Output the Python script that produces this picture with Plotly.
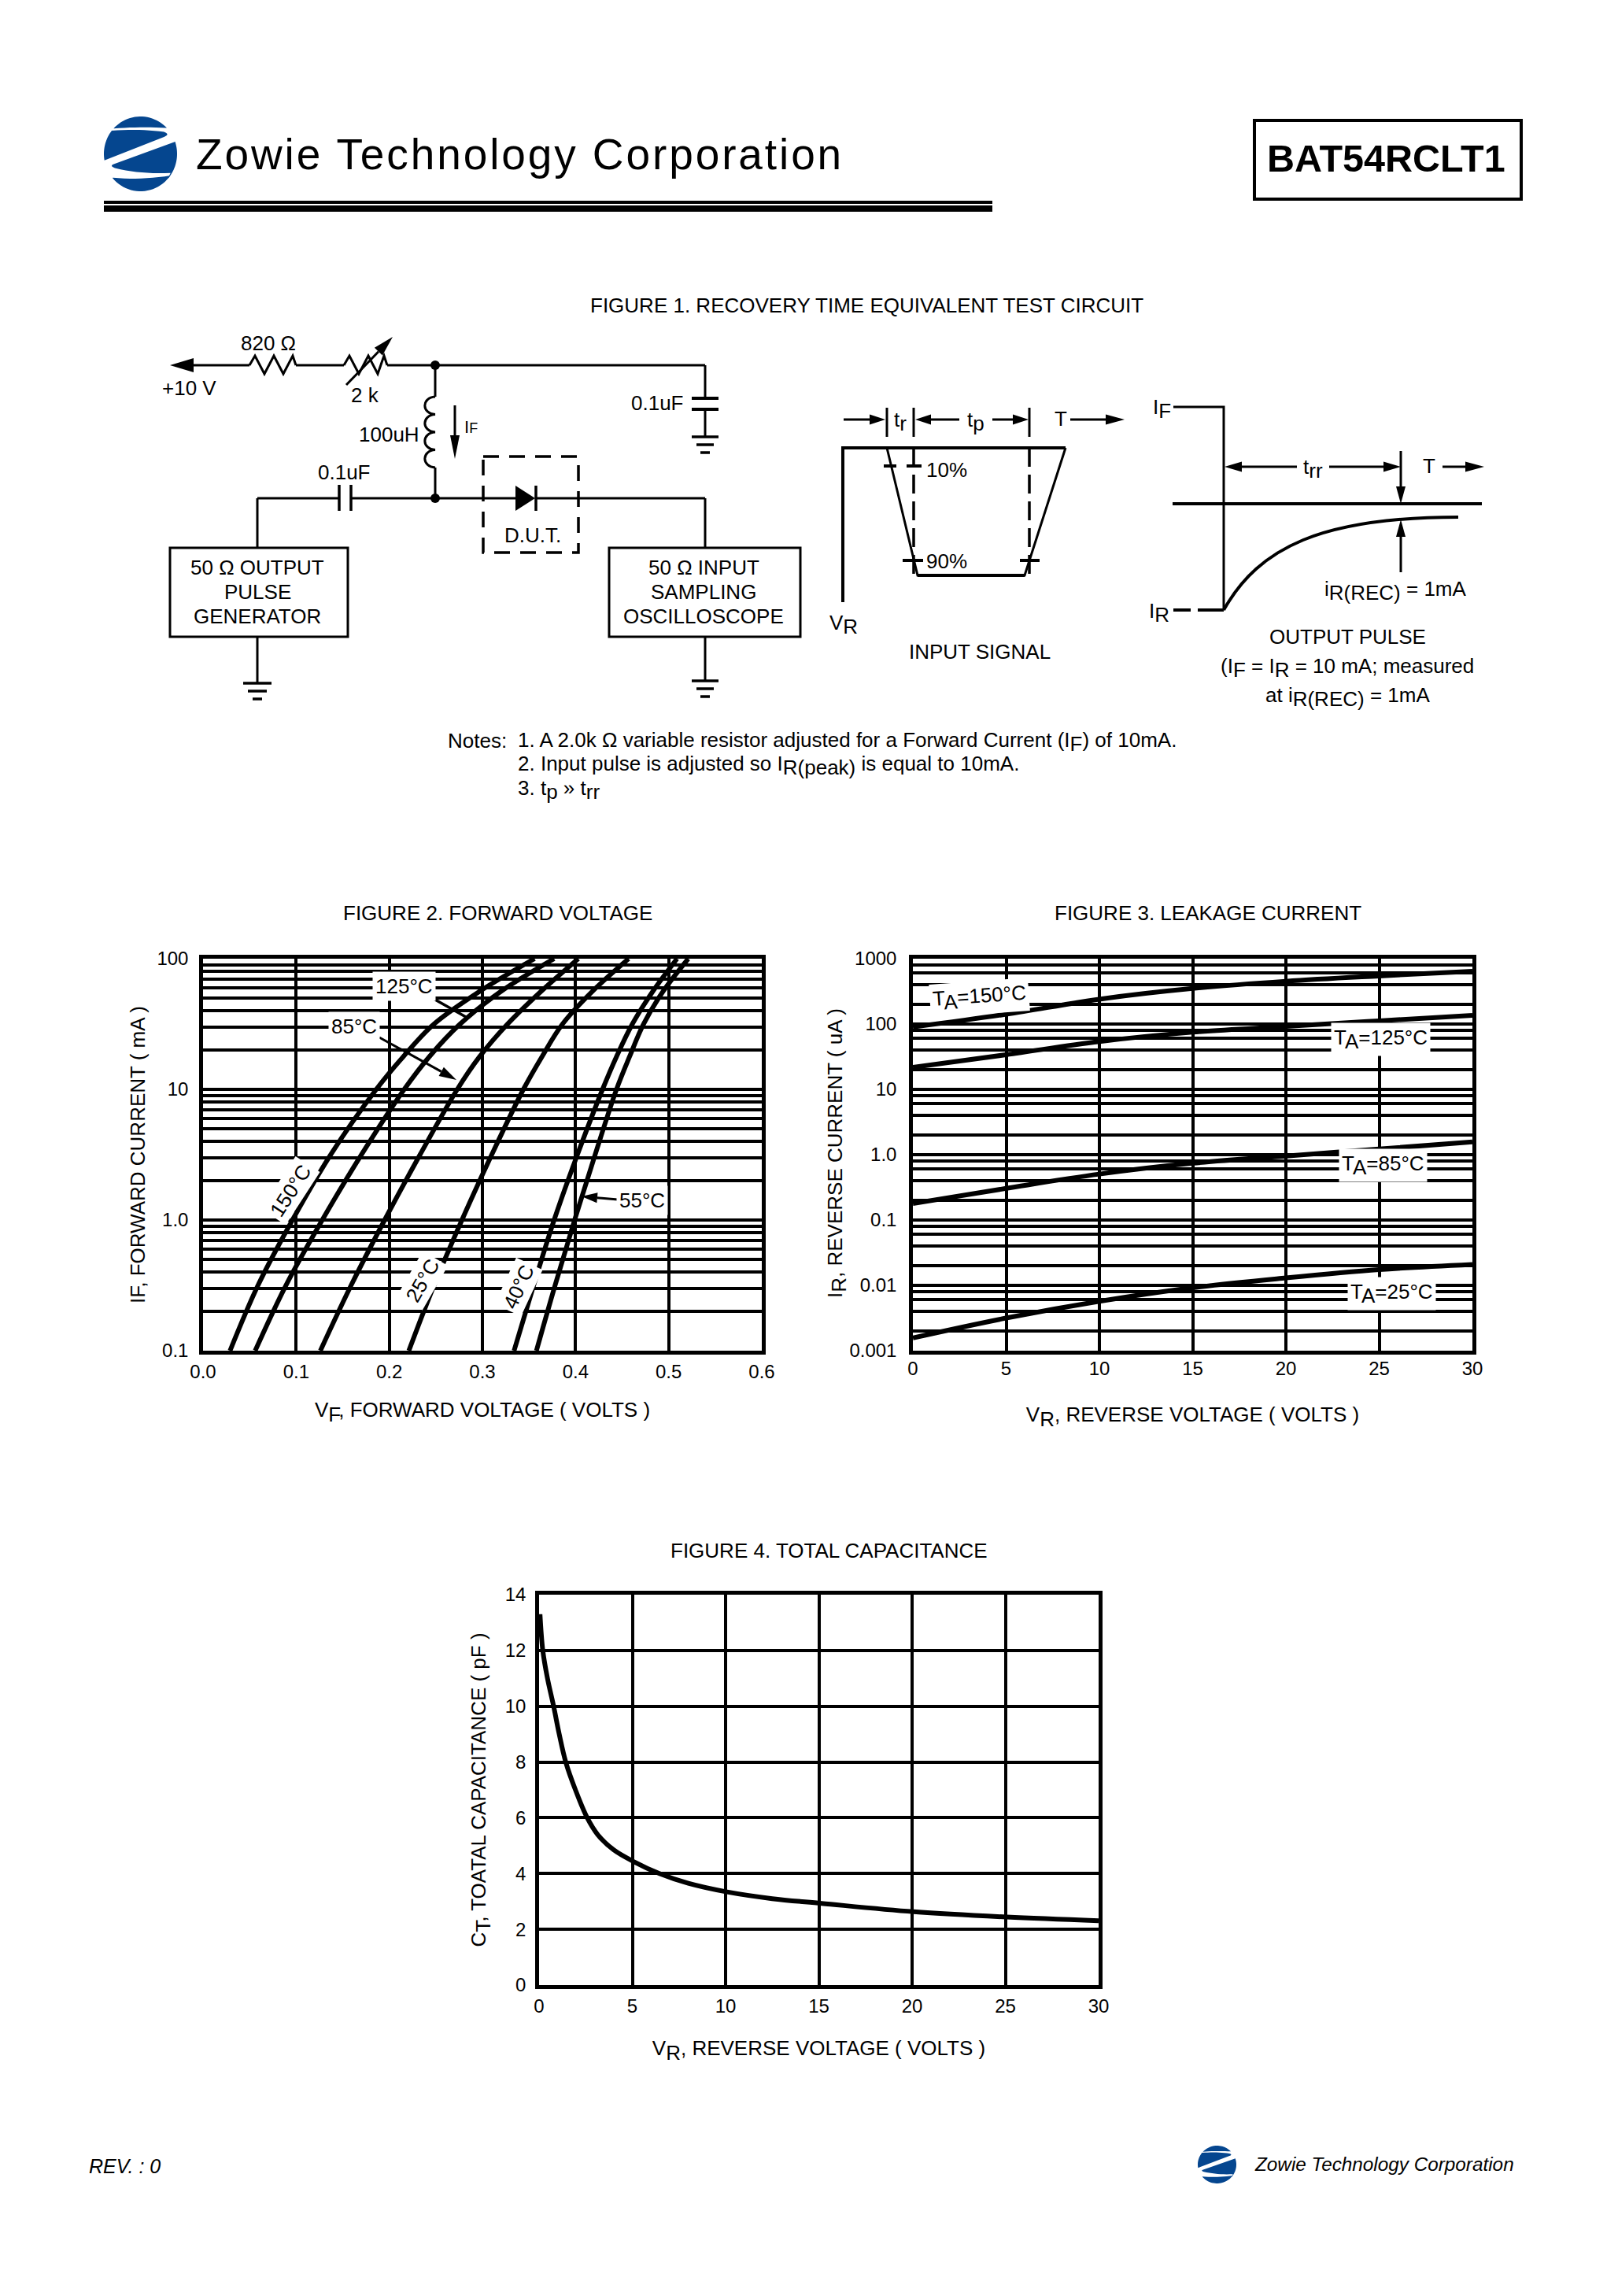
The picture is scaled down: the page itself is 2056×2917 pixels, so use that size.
import math
import plotly.graph_objects as go

W, H = 2056, 2917
FONT = "Liberation Sans"
BLUE = "#05468f"
TXT = 26

# ---------- data ----------
fig2_x_ticks = [0.0, 0.1, 0.2, 0.3, 0.4, 0.5, 0.6]
fig2_y_grid = [0.1, 0.2, 0.3, 0.4, 0.5, 0.6, 0.7, 0.8, 0.9,
               1, 2, 3, 4, 5, 6, 7, 8, 9,
               10, 20, 30, 40, 50, 60, 70, 80, 90, 100]
fig2_y_labels = {0.1: "0.1", 1: "1.0", 10: "10", 100: "100"}

if_levels = [0.1, 0.316, 1, 3.16, 10, 17.8, 31.6, 56.2, 100]
vf_150 = [0.029, 0.059, 0.096, 0.137, 0.186, 0.215, 0.248, 0.297, 0.356]
vf_125 = [0.056, 0.089, 0.128, 0.170, 0.216, 0.243, 0.276, 0.320, 0.377]
vf_85 = [0.126, 0.159, 0.195, 0.233, 0.273, 0.297, 0.327, 0.363, 0.403]
vf_25 = [0.221, 0.248, 0.278, 0.310, 0.344, 0.364, 0.386, 0.418, 0.457]
vf_40 = [0.334, 0.355, 0.377, 0.402, 0.429, 0.444, 0.461, 0.483, 0.509]
vf_55 = [0.358, 0.378, 0.399, 0.421, 0.444, 0.458, 0.473, 0.494, 0.521]

vr_ticks = [0, 5, 10, 15, 20, 25, 30]
fig3_y_grid = [0.001, 0.002, 0.004, 0.006, 0.008,
               0.01, 0.02, 0.04, 0.06, 0.08,
               0.1, 0.2, 0.4, 0.6, 0.8,
               1, 2, 4, 6, 8,
               10, 20, 40, 60, 80,
               100, 200, 400, 600, 800, 1000]
fig3_y_labels = {0.001: "0.001", 0.01: "0.01", 0.1: "0.1", 1: "1.0",
                 10: "10", 100: "100", 1000: "1000"}
ir_150 = [90, 141, 240, 350, 452, 545, 643]
ir_125 = [21.8, 33.9, 54, 75, 92, 112, 136]
ir_85 = [0.179, 0.305, 0.505, 0.74, 0.955, 1.22, 1.57]
ir_25 = [0.00157, 0.00316, 0.0057, 0.0092, 0.013, 0.0174, 0.0209]

fig4_y_ticks = [0, 2, 4, 6, 8, 10, 12, 14]
vr_cap = [0.05, 0.2, 0.45, 0.78, 1.08, 1.43, 1.95, 2.58, 3.15, 4.0, 5.07, 6.45, 8.0, 10.08, 12.5, 15.15, 20.08, 25.07, 30]
ct_cap = [13.3, 12, 11, 10, 9, 8, 7, 6, 5.39, 4.85, 4.43, 4, 3.65, 3.34, 3.1, 2.93, 2.63, 2.44, 2.31]


# ---------- helpers ----------
def px(x): return x / W
def py(y): return 1 - y / H


def P(points, close=False):
    s = "M" + " L".join(f"{px(x):.5f},{py(y):.5f}" for x, y in points)
    return s + (" Z" if close else "")


shapes, notes = [], []


def line(x0, y0, x1, y1, w=3, dash=None):
    shapes.append(dict(type="line", xref="paper", yref="paper",
                       x0=px(x0), y0=py(y0), x1=px(x1), y1=py(y1),
                       line=dict(color="black", width=w, dash=dash)))


def poly(points, w=3, fill=None, close=False):
    shapes.append(dict(type="path", xref="paper", yref="paper", path=P(points, close),
                       fillcolor=fill if fill else "rgba(0,0,0,0)",
                       line=dict(color="black" if w else "rgba(0,0,0,0)", width=w)))


def arrow(x0, y0, x1, y1, w=3, size=19, half=6.5):
    d = math.hypot(x1 - x0, y1 - y0)
    ux, uy = (x1 - x0) / d, (y1 - y0) / d
    bx, by = x1 - ux * size, y1 - uy * size
    line(x0, y0, bx, by, w)
    poly([(x1, y1), (bx - uy * half, by + ux * half), (bx + uy * half, by - ux * half)],
         w=0, fill="black", close=True)


def dot(x, y, r=6):
    shapes.append(dict(type="circle", xref="paper", yref="paper",
                       x0=px(x - r), x1=px(x + r), y0=py(y - r), y1=py(y + r),
                       fillcolor="black", line=dict(color="black", width=0)))


def ground(x, y, hw=(17, 11, 6), step=10):
    for i, h in enumerate(hw):
        line(x - h, y + i * step, x + h, y + i * step, 3.5)


def text(x, y, s, size=TXT, anchor="center", angle=0, bg=None, style=None, pad=0):
    f = dict(family=FONT, size=size, color="black")
    if style:
        f["style"] = style
    notes.append(dict(x=px(x), y=py(y), xref="paper", yref="paper", text=s, showarrow=False,
                      xanchor=anchor, yanchor="middle", textangle=angle, font=f,
                      bgcolor=bg if bg else "rgba(0,0,0,0)", borderpad=pad, align="center"))


def sub(s, size=TXT):
    return f'<sub><span style="font-size:{size}px">{s}</span></sub>'


def logo(cx, cy, rx, ry):
    zx0, zy0, zr_x, zr_y = 160, 167, 140, 143

    def T(a, b):
        return (cx + (a - zx0) / zr_x * rx, cy + (b - zy0) / zr_y * ry)

    def arc(a0, a1, n=24):
        return [(zx0 + zr_x * math.cos(math.radians(a0 + (a1 - a0) * i / n)),
                 zy0 + zr_y * math.sin(math.radians(a0 + (a1 - a0) * i / n))) for i in range(n + 1)]

    def quad(p0, c, p1, n=10):
        return [((1 - t) ** 2 * p0[0] + 2 * t * (1 - t) * c[0] + t ** 2 * p1[0],
                 (1 - t) ** 2 * p0[1] + 2 * t * (1 - t) * c[1] + t ** 2 * p1[1])
                for t in [i / n for i in range(n + 1)]]

    pieces = [
        arc(222, 316) + quad((258, 68), (160, 62), (57, 70)),
        quad((50, 78), (160, 70), (250, 83)) + quad((250, 83), (275, 92), (250, 102))
        + [(22, 192)] + arc(170, 220),
        [(293, 120)] + arc(-17, 42) + quad((275, 240), (160, 245), (65, 222))
        + quad((65, 222), (38, 213), (60, 205)),
        quad((55, 258), (160, 268), (275, 250)) + arc(35, 140),
    ]
    for pc in pieces:
        shapes.append(dict(type="path", xref="paper", yref="paper",
                           path=P([T(a, b) for a, b in pc], True),
                           fillcolor=BLUE, line=dict(color=BLUE, width=0)))


# ---------- header / footer ----------
logo(178.5, 195.5, 46.5, 47.5)
text(248, 196, '<span style="letter-spacing:2.9px">Zowie Technology Corporation</span>', 55, "left")
for y0, y1 in [(255, 259), (261, 269)]:
    shapes.append(dict(type="rect", xref="paper", yref="paper", x0=px(132), x1=px(1261),
                       y0=py(y0), y1=py(y1), fillcolor="black", line=dict(width=0)))
shapes.append(dict(type="rect", xref="paper", yref="paper", x0=px(1594), x1=px(1933),
                   y0=py(153), y1=py(253), line=dict(color="black", width=4)))
text(1761, 201, "<b>BAT54RCLT1</b>", 48.5)
text(112, 2752, "REV. : 0", 25, "left", style="italic")
logo(1546.5, 2750, 24.5, 24)
text(1593, 2749, "Zowie Technology Corporation", 24.3, "left", style="italic")

# ---------- figure 1 ----------
text(1101, 388, "FIGURE 1. RECOVERY TIME EQUIVALENT TEST CIRCUIT")
arrow(317, 464, 216, 464, size=30, half=9)
poly([(317, 464), (324, 452), (336, 475), (348, 452), (360, 475), (372, 452), (376, 464)])
line(376, 464, 437, 464)
poly([(437, 464), (444, 452), (456, 475), (468, 452), (480, 475), (488, 452), (492, 464)])
line(492, 464, 896, 464)
arrow(440, 489, 499, 428, size=26, half=7)
dot(553, 464)
line(553, 464, 553, 504)
bulge = 13
coil = "M" + f"{px(553):.5f},{py(504):.5f}"
for i in range(4):
    y0, y1 = 504 + i * 22.5, 504 + (i + 1) * 22.5
    coil += (f" C{px(553 - bulge * 1.35):.5f},{py(y0 + 1):.5f}"
             f" {px(553 - bulge * 1.35):.5f},{py(y1 - 1):.5f} {px(553):.5f},{py(y1):.5f}")
shapes.append(dict(type="path", xref="paper", yref="paper", path=coil,
                   line=dict(color="black", width=3)))
line(553, 594, 553, 633)
dot(553, 633)
arrow(578, 515, 578, 583, size=30, half=6)
text(589, 542, "I<span style=\"font-size:18px\">F</span>", 22, "left")
text(534, 552, "100uH", anchor="right")
text(341, 436, "820 Ω")
text(240, 493, "+10 V")
text(464, 502, "2 k")
text(835, 512, "0.1uF")
text(437, 600, "0.1uF")
line(896, 464, 896, 506)
line(879, 506, 913, 506, 4)
line(879, 520, 913, 520, 4)
line(896, 520, 896, 555)
ground(896, 555)
line(327, 633, 431, 633)
line(431, 616, 431, 649, 3.5)
line(446, 616, 446, 649, 3.5)
line(446, 633, 655, 633)
line(680, 633, 896, 633)
poly([(655, 617), (655, 649), (680, 633)], w=0, fill="black", close=True)
line(681, 617, 681, 649, 3.5)
shapes.append(dict(type="rect", xref="paper", yref="paper", x0=px(614), x1=px(735),
                   y0=py(580), y1=py(702), line=dict(color="black", width=3.5, dash="20px,13px")))
text(677, 680, "D.U.T.")
line(327, 633, 327, 696)
line(896, 633, 896, 696)
shapes.append(dict(type="rect", xref="paper", yref="paper", x0=px(216), x1=px(442),
                   y0=py(696), y1=py(809), line=dict(color="black", width=3)))
shapes.append(dict(type="rect", xref="paper", yref="paper", x0=px(774), x1=px(1017),
                   y0=py(696), y1=py(809), line=dict(color="black", width=3)))
for i, s in enumerate(["50 Ω OUTPUT", "PULSE", "GENERATOR"]):
    text(327, 721 + i * 31, s)
for i, s in enumerate(["50 Ω INPUT", "SAMPLING", "OSCILLOSCOPE"]):
    text(894, 721 + i * 31, s)
line(327, 809, 327, 868)
ground(327, 868, (18, 12, 6))
line(896, 809, 896, 865)
ground(896, 865)

text(568, 941, "Notes:", anchor="left")
text(657, 942, "1. A 2.0k Ω variable resistor adjusted for a Forward Current (I" + sub("F") + ") of 10mA.", anchor="left")
text(657, 973, "2. Input pulse is adjusted so I" + sub("R(peak)") + " is equal to 10mA.", anchor="left")
text(657, 1003, "3. t" + sub("p") + " » t" + sub("rr"), anchor="left")

# input signal
poly([(1071, 765), (1071, 569), (1354, 569)], w=4)
poly([(1127, 569), (1166, 731), (1302, 731), (1354, 569)])
line(1166, 731, 1302, 731, 4)
for x in (1127, 1161, 1308):
    line(x, 518, x, 555)
line(1161, 569, 1161, 730, 3.5, "24px,10px")
line(1308, 569, 1308, 730, 3.5, "24px,10px")
line(1123, 592, 1139, 592, 4)
line(1152, 592, 1171, 592, 4)
line(1147, 712, 1173, 712, 4)
line(1296, 712, 1321, 712, 4)
arrow(1072, 533, 1125, 533, size=20)
arrow(1219, 533, 1163, 533, size=20)
arrow(1261, 533, 1307, 533, size=20)
arrow(1360, 533, 1429, 533, size=24)
text(1144, 535, "t" + sub("r"))
text(1240, 535, "t" + sub("p"))
text(1348, 532, "T")
text(1176, 597, "10%", anchor="left")
text(1176, 713, "90%", anchor="left")
text(1072, 793, "V" + sub("R"))
text(1245, 828, "INPUT SIGNAL")

# output pulse
text(1476, 520, "I" + sub("F"))
poly([(1491, 517), (1555, 517), (1555, 775)])
line(1491, 775, 1513, 775, 4)
line(1522, 775, 1555, 775, 4)
line(1490, 640, 1883, 640, 4)
shapes.append(dict(type="path", xref="paper", yref="paper",
                   path=(f"M{px(1555):.5f},{py(775):.5f} "
                         f"C{px(1600):.5f},{py(695):.5f} {px(1680):.5f},{py(657):.5f} "
                         f"{px(1853):.5f},{py(657):.5f}"),
                   line=dict(color="black", width=4)))
arrow(1648, 593, 1556, 593, size=22)
arrow(1689, 593, 1780, 593, size=22)
arrow(1780, 573, 1780, 640, size=22, half=6)
arrow(1780, 727, 1780, 660, size=22, half=6)
arrow(1833, 593, 1886, 593, size=24)
text(1816, 592, "T")
text(1668, 595, "t" + sub("rr"))
text(1773, 751, "i" + sub("R(REC)") + " = 1mA")
text(1473, 778, "I" + sub("R"))
text(1712, 809, "OUTPUT PULSE")
text(1712, 848, "(I" + sub("F") + " = I" + sub("R") + " = 10 mA; measured")
text(1712, 885, "at i" + sub("R(REC)") + " = 1mA")

# ---------- chart labels ----------
text(632, 1160, "FIGURE 2. FORWARD VOLTAGE")
text(1535, 1160, "FIGURE 3. LEAKAGE CURRENT")
text(1053, 1970, "FIGURE 4. TOTAL CAPACITANCE")

text(513, 1253, "125°C", bg="white", pad=3)
text(450, 1304, "85°C", bg="white", pad=3)
text(369, 1513, "150°C", angle=-57, bg="white", pad=3)
text(537, 1627, "25°C", angle=-60, bg="white", pad=3)
text(659, 1635, "40°C", angle=-65, bg="white", pad=3)
text(816, 1525, "55°C", bg="white", pad=3)
line(544, 1265, 592, 1292, 3.5)
arrow(482, 1318, 580, 1372, size=22)
arrow(785, 1524, 739, 1520, size=20)

text(1244, 1267, "T" + sub("A") + "=150°C", angle=-4, bg="white", pad=3)
text(1754, 1320, "T" + sub("A") + "=125°C", bg="white", pad=3)
text(1757, 1480, "T" + sub("A") + "=85°C", bg="white", pad=3)
text(1768, 1643, "T" + sub("A") + "=25°C", bg="white", pad=3)
text(1063, 1465, "I" + sub("R") + ", REVERSE CURRENT ( uA )", angle=-90)

# ---------- traces ----------
LW = 6
fig = go.Figure()
for name, x in [("150°C", vf_150), ("125°C", vf_125), ("85°C", vf_85),
                ("25°C", vf_25), ("40°C", vf_40), ("55°C", vf_55)]:
    fig.add_trace(go.Scatter(x=x, y=if_levels, mode="lines", name=name, xaxis="x", yaxis="y",
                             line=dict(color="black", width=LW, shape="spline", smoothing=1)))
for name, y in [("TA=150°C", ir_150), ("TA=125°C", ir_125), ("TA=85°C", ir_85), ("TA=25°C", ir_25)]:
    fig.add_trace(go.Scatter(x=vr_ticks, y=y, mode="lines", name=name, xaxis="x2", yaxis="y2",
                             line=dict(color="black", width=LW, shape="spline", smoothing=1)))
fig.add_trace(go.Scatter(x=vr_cap, y=ct_cap, mode="lines", name="CT", xaxis="x3", yaxis="y3",
                         line=dict(color="black", width=LW, shape="spline", smoothing=1)))


def axis_common(vals, labels, title, standoff, lab_off):
    return dict(tickmode="array", tickvals=vals, ticktext=labels, ticks="", ticklabelstandoff=lab_off,
                showgrid=True, gridcolor="black", gridwidth=4, zeroline=False,
                showline=True, mirror=True, linecolor="black", linewidth=4.5,
                tickfont=dict(family=FONT, size=24, color="black"),
                title=dict(text=title, standoff=standoff,
                           font=dict(family=FONT, size=26, color="black")))


def xaxis(anchor, x0, x1, rng, vals, labels, title, standoff, lab_off):
    return dict(domain=[px(x0), px(x1)], anchor=anchor, range=rng,
                **axis_common(vals, labels, title, standoff, lab_off))


def yaxis(anchor, y0, y1, type_, rng, vals, labels, title, standoff, lab_off):
    return dict(domain=[py(y1), py(y0)], anchor=anchor, type=type_, range=rng,
                **axis_common(vals, labels, title, standoff, lab_off))


fig.update_layout(
    width=W, height=H, autosize=False, showlegend=False,
    margin=dict(l=0, r=0, t=0, b=0, pad=0, autoexpand=False),
    paper_bgcolor="white", plot_bgcolor="white",
    font=dict(family=FONT, color="black"),
    shapes=shapes, annotations=notes,
    xaxis=xaxis("y", 258, 968, [0, 0.6], fig2_x_ticks, [f"{v:.1f}" for v in fig2_x_ticks],
                "V" + sub("F", 26) + ", FORWARD VOLTAGE ( VOLTS )", 29, 1),
    yaxis=yaxis("x", 1218, 1716, "log", [-1, 2], fig2_y_grid,
                [fig2_y_labels.get(v, "") for v in fig2_y_grid],
                "IF, FORWARD CURRENT ( mA )", 9, 9),
    xaxis2=xaxis("y2", 1160, 1871, [0, 30], vr_ticks, [str(v) for v in vr_ticks],
                 "V" + sub("R", 26) + ", REVERSE VOLTAGE ( VOLTS )", 39, -3),
    yaxis2=yaxis("x2", 1218, 1716, "log", [-3, 3], fig3_y_grid,
                 [fig3_y_labels.get(v, "") for v in fig3_y_grid],
                 "", 0, 11),
    xaxis3=xaxis("y3", 685, 1396, [0, 30], vr_ticks, [str(v) for v in vr_ticks],
                 "V" + sub("R", 26) + ", REVERSE VOLTAGE ( VOLTS )", 34, 1),
    yaxis3=yaxis("x3", 2026, 2522, "linear", [0, 14], fig4_y_ticks, [str(v) for v in fig4_y_ticks],
                 "C" + sub("T", 26) + ", TOATAL CAPACITANCE ( pF )", 18, 7),
)

fig.write_html("out.html", config={"displayModeBar": False, "responsive": False},
               post_script="document.documentElement.style.margin='0';document.body.style.margin='0';document.body.style.overflow='hidden';")
